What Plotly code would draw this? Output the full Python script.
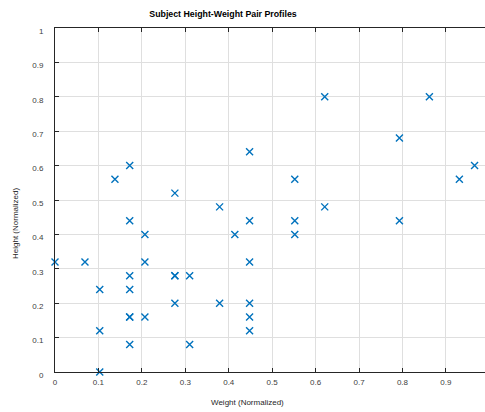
import plotly.graph_objects as go

# Normalized weight (x) and height (y) of each subject pair
weight = [0.000, 0.069, 0.103, 0.103, 0.103, 0.138,
          0.172, 0.172, 0.172, 0.172, 0.172, 0.172, 0.172,
          0.207, 0.207, 0.207,
          0.276, 0.276, 0.276, 0.276,
          0.310, 0.310, 0.379, 0.379, 0.414,
          0.448, 0.448, 0.448, 0.448, 0.448, 0.448,
          0.552, 0.552, 0.552, 0.621, 0.621,
          0.793, 0.793, 0.862, 0.931, 0.966]
height = [0.32, 0.32, 0.24, 0.12, 0.00, 0.56,
          0.60, 0.44, 0.28, 0.24, 0.16, 0.16, 0.08,
          0.40, 0.32, 0.16,
          0.52, 0.28, 0.28, 0.20,
          0.28, 0.08, 0.48, 0.20, 0.40,
          0.64, 0.44, 0.32, 0.20, 0.16, 0.12,
          0.56, 0.44, 0.40, 0.80, 0.48,
          0.68, 0.44, 0.80, 0.56, 0.60]

tickvals = [0, 0.1, 0.2, 0.3, 0.4, 0.5, 0.6, 0.7, 0.8, 0.9, 1.0]

FONT = "Liberation Sans, Arial, sans-serif"
AX = "#262626"
GRID = "#dfdfdf"

fig = go.Figure(go.Scatter(
    x=weight, y=height, mode="markers",
    marker=dict(symbol="x-thin-open", size=7, color="#0072BD",
                line=dict(width=1.4, color="#0072BD")),
    cliponaxis=False, showlegend=False,
))

fig.update_layout(
    width=485, height=412, autosize=False,
    margin=dict(l=55, r=0, t=28, b=40),
    paper_bgcolor="white", plot_bgcolor="white",
    font=dict(family=FONT, size=8, color="#404040"),
    title=dict(text="<b>Subject Height-Weight Pair Profiles</b>",
               xref="container", x=223 / 485, xanchor="center",
               yref="container", y=1 - 14 / 412, yanchor="middle",
               font=dict(family=FONT, size=8.8, color="#000000")),
    xaxis=dict(range=[0, 0.99], tickvals=tickvals[:-1],
               showgrid=True, gridcolor=GRID, gridwidth=1,
               showline=True, linecolor=AX, linewidth=1, mirror="ticks",
               ticks="inside", ticklen=4, tickcolor=AX,
               zeroline=False, ticklabelstandoff=2),
    yaxis=dict(range=[0, 1], tickvals=tickvals,
               showgrid=True, gridcolor=GRID, gridwidth=1,
               showline=True, linecolor=AX, linewidth=1, mirror=False,
               ticks="inside", ticklen=4, tickcolor=AX,
               zeroline=False, ticklabelstandoff=9, ticklabelshift=3),
    annotations=[
        dict(text="Weight (Normalized)", xref="paper", yref="paper",
             x=(247 - 55) / 430, y=-(402 - 372) / 344,
             xanchor="center", yanchor="middle", showarrow=False,
             font=dict(family=FONT, size=8, color="#262626")),
        dict(text="Height (Normalized)", xref="paper", yref="paper",
             x=(15 - 55) / 430, y=(372 - 224) / 344, textangle=-90,
             xanchor="center", yanchor="middle", showarrow=False,
             font=dict(family=FONT, size=8, color="#262626")),
    ],
)

fig.write_html("out.html")
